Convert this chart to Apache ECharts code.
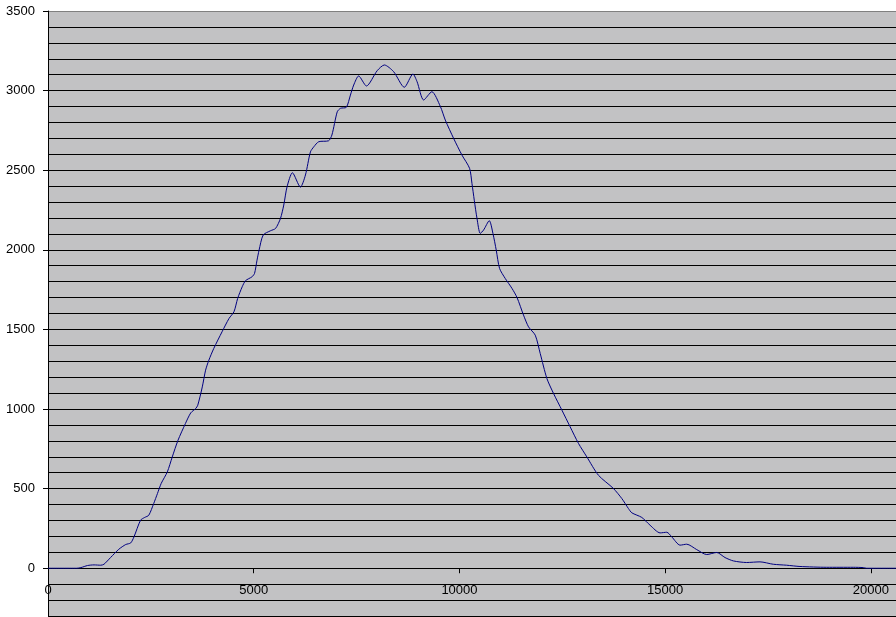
<!DOCTYPE html>
<html>
<head>
<meta charset="utf-8">
<script src="https://cdn.jsdelivr.net/npm/echarts@6/dist/echarts.min.js"></script>
<style>
html,body{margin:0;padding:0;background:#fff;}
#chart{width:896px;height:617px;}
</style>
</head>
<body>
<div id="chart"></div>
<script>
// Data
const xValues = [0,700,800,960,1120,1280,1360,1520,1720,1890,2010,2090,2250,2350,2450,2570,2660,2750,2900,3020,3160,3340,3470,3590,3640,3750,3830,3910,4030,4230,4400,4520,4610,4720,4800,4960,5020,5080,5130,5230,5410,5530,5650,5730,5810,5940,6135,6257,6378,6460,6580,6820,6900,7030,7110,7250,7350,7430,7550,7740,8000,8175,8400,8660,8870,8970,9130,9330,9535,9656,9858,10061,10246,10304,10360,10426,10506,10586,10725,10814,10894,10975,11113,11276,11400,11557,11679,11842,11963,12125,12286,12490,12691,12893,13097,13378,13742,13946,14107,14190,14432,14634,14877,15039,15160,15362,15524,15767,16010,16253,16455,16657,16981,17304,17628,17952,18276,18924,19571,19814,19895,20610];
const yValues = [0,0,4,17,21,19,25,67,119,149,159,197,302,319,333,407,469,532,605,699,804,909,976,1003,1024,1139,1244,1307,1381,1485,1569,1611,1695,1768,1806,1831,1852,1935,1998,2093,2120,2134,2197,2281,2396,2484,2394,2470,2615,2647,2679,2685,2721,2867,2889,2895,2972,3035,3092,3029,3125,3161,3119,3021,3104,3056,2941,2993,2901,2815,2700,2595,2512,2417,2312,2198,2103,2124,2183,2103,1998,1883,1820,1758,1700,1590,1516,1464,1349,1192,1098,993,888,784,699,584,501,438,375,348,319,270,222,226,197,145,151,117,86,99,67,46,36,40,25,19,11,6,6,4,0,0];
const xTickLabels = [0,5000,10000,15000,20000];
const yTickLabels = [0,500,1000,1500,2000,2500,3000,3500];

const Y_MIN = -300, Y_MAX = 3500, Y_STEP = 100;
const X_MIN = 0, X_MAX = 20610;

const seriesData = xValues.map((x, i) => [x, yValues[i]]);

// split line colours: black, top border gray
const nLines = Math.round((Y_MAX - Y_MIN) / Y_STEP) + 1;
const splitColors = [];
for (let i = 0; i < nLines; i++) splitColors.push(i === nLines - 1 ? '#808080' : '#000000');

const chart = echarts.init(document.getElementById('chart'), null, {renderer: 'canvas'});
const font = {fontFamily: 'Liberation Sans, Arial, sans-serif', fontSize: 13, color: '#000'};
const plain = v => String(v);

chart.setOption({
  backgroundColor: '#ffffff',
  animation: false,
  grid: {
    left: 48, right: 0, top: 11, bottom: 1,
    containLabel: false, outerBoundsMode: 'none',
    show: true, backgroundColor: '#c2c2c4', borderWidth: 0
  },
  xAxis: [
    {
      type: 'value',
      min: X_MIN, max: X_MAX, interval: 5000,
      axisLine: {show: true, onZero: true, onZeroAxisIndex: 0, lineStyle: {color: '#000', width: 1}},
      axisTick: {show: true, length: 5, inside: false, customValues: xTickLabels, lineStyle: {color: '#000'}},
      axisLabel: {show: false},
      splitLine: {show: false}
    },
    {
      type: 'value',
      position: 'bottom',
      min: X_MIN, max: X_MAX, interval: 5000,
      axisLine: {show: false, onZero: false},
      axisTick: {show: false},
      axisLabel: Object.assign({margin: -32, customValues: xTickLabels, formatter: plain, verticalAlign: 'top'}, font),
      splitLine: {show: false}
    }
  ],
  yAxis: [
    {
      type: 'value',
      min: Y_MIN, max: Y_MAX, interval: Y_STEP,
      axisLine: {show: true, onZero: false, lineStyle: {color: '#000', width: 1}},
      axisTick: {show: false},
      axisLabel: {show: false},
      splitLine: {show: true, lineStyle: {color: splitColors, width: 1}}
    },
    {
      type: 'value',
      position: 'left',
      min: Y_MIN, max: Y_MAX, interval: Y_STEP,
      axisLine: {show: false, onZero: false},
      axisTick: {show: true, length: 5, customValues: yTickLabels, lineStyle: {color: '#000'}},
      axisLabel: Object.assign({margin: 13, customValues: yTickLabels, formatter: plain}, font),
      splitLine: {show: false}
    }
  ],
  series: [{
    type: 'line',
    data: seriesData,
    xAxisIndex: 0,
    yAxisIndex: 0,
    showSymbol: false,
    symbol: 'none',
    smooth: 0.25,
    lineStyle: {color: '#000080', width: 1}
  }]
});
</script>
</body>
</html>
